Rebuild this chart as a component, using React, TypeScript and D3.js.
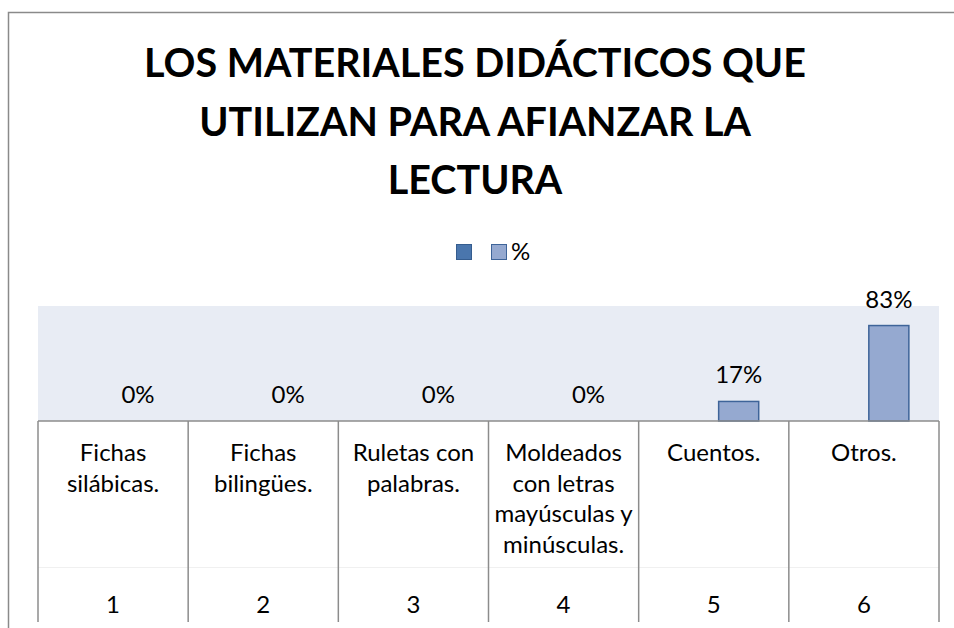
import React from 'react';
import * as d3 from 'd3';

const titleLines = ['LOS MATERIALES DIDÁCTICOS QUE', 'UTILIZAN PARA AFIANZAR LA', 'LECTURA'];
const codes = ['1', '2', '3', '4', '5', '6'];
const categoryLines = [
  ['Fichas', 'silábicas.'],
  ['Fichas', 'bilingües.'],
  ['Ruletas con', 'palabras.'],
  ['Moldeados', 'con letras', 'mayúsculas y', 'minúsculas.'],
  ['Cuentos.'],
  ['Otros.'],
];
const seriesNames = ['', '%'];
const blankValues: (number | null)[] = [null, null, null, null, null, null];
const percentValues = [0, 0, 0, 0, 0.17, 0.83];

const W = 954;
const H = 628;
const font = 'Lato, "Open Sans", sans-serif';

export default function App() {
  let margin = {left: 38, right: 15, plotTop: 306, plotBottom: 421, tableBottom: 622};

  let x = d3.scaleBand<string>()
    .domain(codes)
    .range([margin.left, W - margin.right])
    .padding(0);

  let inner = d3.scaleBand<string>()
    .domain(seriesNames)
    .range([0, x.bandwidth()])
    .paddingInner(0)
    .paddingOuter(0.875)
    .align(0.57);

  let y = d3.scaleLinear()
    .domain([0, 1])
    .range([margin.plotBottom, margin.plotTop]);

  let pct = d3.format('.0%');
  let lineGray = '#8c8c8c';
  let [x0, x1] = x.range();
  let fs = 24;

  return (
    <div style={{position: 'absolute', left: 0, top: 0}}>
      <svg width={W} height={H} style={{display: 'block', fontFamily: font}}>
        <rect x={0} y={0} width={W} height={H} fill="#fff" />
        {/* outer chart frame, runs past the right and bottom edges */}
        <rect x={8.5} y={12.5} width={W + 20} height={H + 20} fill="none" stroke="#8a8a8a" strokeWidth={1.5} />

        {titleLines.map((t, i) => (
          <text key={t} x={475} y={77 + i * 58.5} textAnchor="middle"
            fontSize={39.5} fontWeight="bold" fill="#000">{t}</text>
        ))}

        {/* legend */}
        <rect x={456.5} y={244.5} width={15} height={15} fill="#4a76ad" stroke="#355d8f" />
        <rect x={491.5} y={244.5} width={15} height={15} fill="#95a9d0" stroke="#3e6499" />
        <text x={511} y={260} fontSize={fs} fill="#000">%</text>

        {/* plot area */}
        <rect x={x0} y={margin.plotTop} width={x1 - x0} height={margin.plotBottom - margin.plotTop} fill="#e8ecf4" />

        {percentValues.map((v, i) => {
          let bx = (x(codes[i]) as number) + (inner('%') as number);
          return (
            <g key={'b' + i}>
              {v > 0 && (
                <rect x={bx} y={y(v)} width={inner.bandwidth()} height={y(0) - y(v)}
                  fill="#95a9d0" stroke="#3e6499" strokeWidth={1.5} />
              )}
              <text x={bx + inner.bandwidth() / 2} y={y(v) - 18} textAnchor="middle"
                fontSize={fs} fill="#000">{pct(v)}</text>
            </g>
          );
        })}
        {blankValues.map((v, i) => v == null ? null : (
          <rect key={'s' + i} x={(x(codes[i]) as number) + (inner('') as number)} y={y(v)}
            width={inner.bandwidth()} height={y(0) - y(v)} fill="#4a76ad" />
        ))}

        {/* data table */}
        <line x1={x0} x2={x1} y1={567.5} y2={567.5} stroke="#f0f0f0" />
        <line x1={x0} x2={x1} y1={margin.plotBottom} y2={margin.plotBottom} stroke={lineGray} strokeWidth={1.5} />
        {codes.concat(['end']).map((c, i) => {
          let xx = i < codes.length ? (x(c) as number) : x1;
          return (
            <line key={'v' + i} x1={xx} x2={xx} y1={margin.plotBottom} y2={margin.tableBottom}
              stroke={lineGray} strokeWidth={1.5} />
          );
        })}
        {codes.map((c, i) => {
          let cx = (x(c) as number) + x.bandwidth() / 2;
          return (
            <g key={'t' + i} fontSize={fs} fill="#000" textAnchor="middle">
              {categoryLines[i].map((ln, j) => (
                <text key={j} x={cx} y={461 + j * 30.5}>{ln}</text>
              ))}
              <text x={cx} y={613}>{c}</text>
            </g>
          );
        })}
      </svg>
    </div>
  );
}
